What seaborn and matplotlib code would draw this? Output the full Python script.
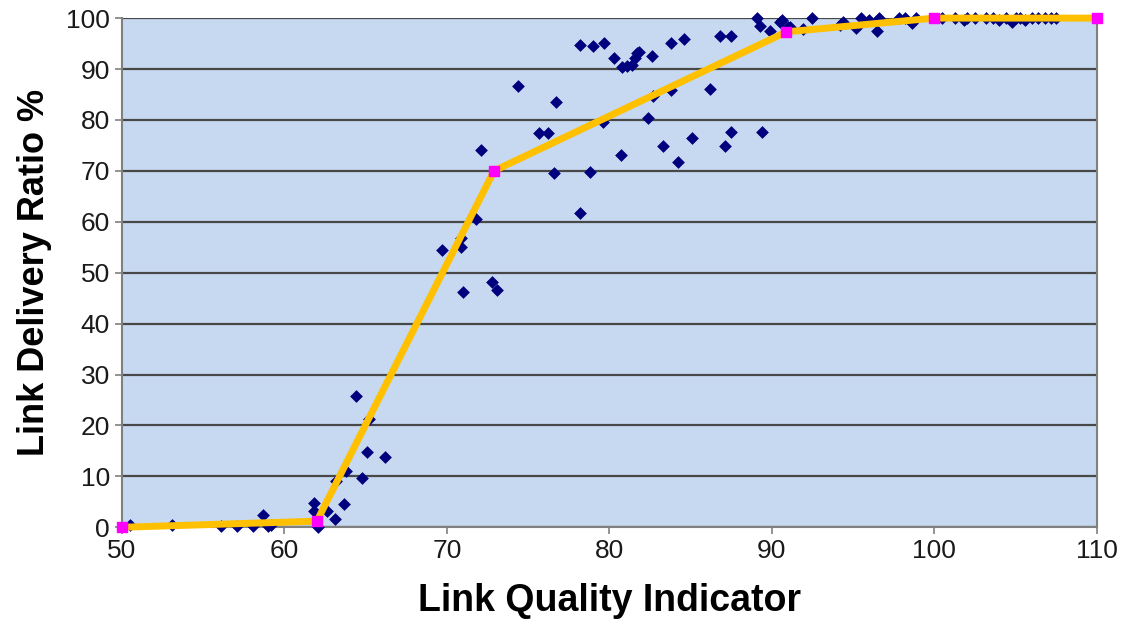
import matplotlib
matplotlib.use("Agg")
import matplotlib.pyplot as plt
import seaborn as sns
import pandas as pd

# measured links: LQI vs delivery ratio
lqi = [50.5, 53.1, 56.1, 57.1, 58.1, 58.7, 59.0, 59.2, 61.8, 61.8, 62.1, 62.6,
       63.1, 63.2, 63.7, 63.8, 64.4, 64.8, 65.1, 65.2, 66.2,
       69.7, 70.9, 70.9, 71.8, 71.0, 72.8, 73.1, 72.1,
       78.2, 74.4, 76.7, 75.7, 76.2, 76.6, 78.8, 79.6, 80.7, 82.4, 82.7, 83.3,
       83.8, 84.2, 85.1, 86.2, 87.1, 87.5, 89.4,
       78.2, 79.0, 79.7, 80.3, 80.8, 81.1, 81.4, 81.6, 81.7, 81.8, 82.6, 83.8,
       84.6, 86.8, 87.5, 89.1, 89.3, 89.9, 90.5, 91.1, 91.9,
       90.6, 91.0, 92.5, 94.2, 94.4, 95.2, 95.5, 96.0, 96.5, 96.6, 97.8, 98.2,
       98.6, 98.9, 100.5, 101.3, 102.0, 103.2, 103.6, 104.0, 104.4, 104.8,
       105.0, 105.3, 105.6, 106.0, 106.4, 106.8, 107.2, 107.5, 102.5, 101.8]
ldr = [0.4, 0.4, 0.2, 0.3, 0.2, 2.4, 0.3, 0.5, 4.7, 3.1, 0.0, 3.1,
       1.6, 9.0, 4.5, 11.0, 25.7, 9.6, 14.7, 21.2, 13.8,
       54.4, 56.8, 55.0, 60.5, 46.2, 48.1, 46.6, 74.1,
       61.7, 86.6, 83.5, 77.4, 77.4, 69.5, 69.7, 79.6, 73.1, 80.4, 84.7, 74.9,
       85.9, 71.7, 76.4, 86.0, 74.9, 77.6, 77.6,
       94.7, 94.5, 95.1, 92.1, 90.4, 90.6, 90.8, 92.1, 93.1, 93.3, 92.5, 95.1,
       95.9, 96.5, 96.5, 100.0, 98.4, 97.4, 99.2, 98.2, 97.8,
       99.6, 98.2, 100.0, 98.6, 99.2, 98.0, 100.0, 99.6, 97.4, 100.0, 100.0, 100.0,
       99.0, 100.0, 100.0, 100.0, 100.0, 100.0, 100.0, 99.6, 100.0, 99.2,
       100.0, 100.0, 99.6, 100.0, 100.0, 100.0, 100.0, 100.0, 100.0, 99.6]

# piecewise fit
fit_x = [50, 62.0, 72.9, 90.9, 100, 110]
fit_y = [0, 1.2, 70, 97.3, 100, 100]

pts = pd.DataFrame({"LQI": lqi, "LDR": ldr})
fit = pd.DataFrame({"LQI": fit_x, "LDR": fit_y})

plt.rcParams["font.family"] = ["Liberation Sans", "DejaVu Sans"]

fig = plt.figure(figsize=(11.39, 6.24), dpi=100)
ax = fig.add_axes([0.107, 0.155, 0.856, 0.816])
ax.set_facecolor("#C6D9F0")

sns.scatterplot(data=pts, x="LQI", y="LDR", ax=ax, marker="D", s=36,
                color="#00007F", edgecolor="#00007F", zorder=3, clip_on=False)
sns.lineplot(data=fit, x="LQI", y="LDR", ax=ax, color="#FFC000", linewidth=5,
             zorder=4, clip_on=False)
ax.scatter(fit_x, fit_y, marker="s", s=60, color="#FF00FF", zorder=5, clip_on=False)

ax.set_xlim(50, 110)
ax.set_ylim(0, 100)
ax.set_xticks(range(50, 111, 10))
ax.set_yticks(range(0, 101, 10))
ax.yaxis.grid(True, color="#484848", linewidth=1.6)
ax.xaxis.grid(False)
ax.set_axisbelow(True)
for s in ["left", "bottom", "right"]:
    ax.spines[s].set_color("#808080")
    ax.spines[s].set_linewidth(1.5)
ax.spines["top"].set_visible(False)
ax.tick_params(axis="both", labelsize=19, colors="#808080", labelcolor="#1a1a1a",
               length=5, width=1.2)
ax.set_xlabel("Link Quality Indicator", fontsize=27, fontweight="bold", labelpad=14)
ax.set_ylabel("Link Delivery Ratio %", fontsize=26, fontweight="bold", labelpad=10)

fig.savefig("out.png", dpi=100, facecolor="white")
